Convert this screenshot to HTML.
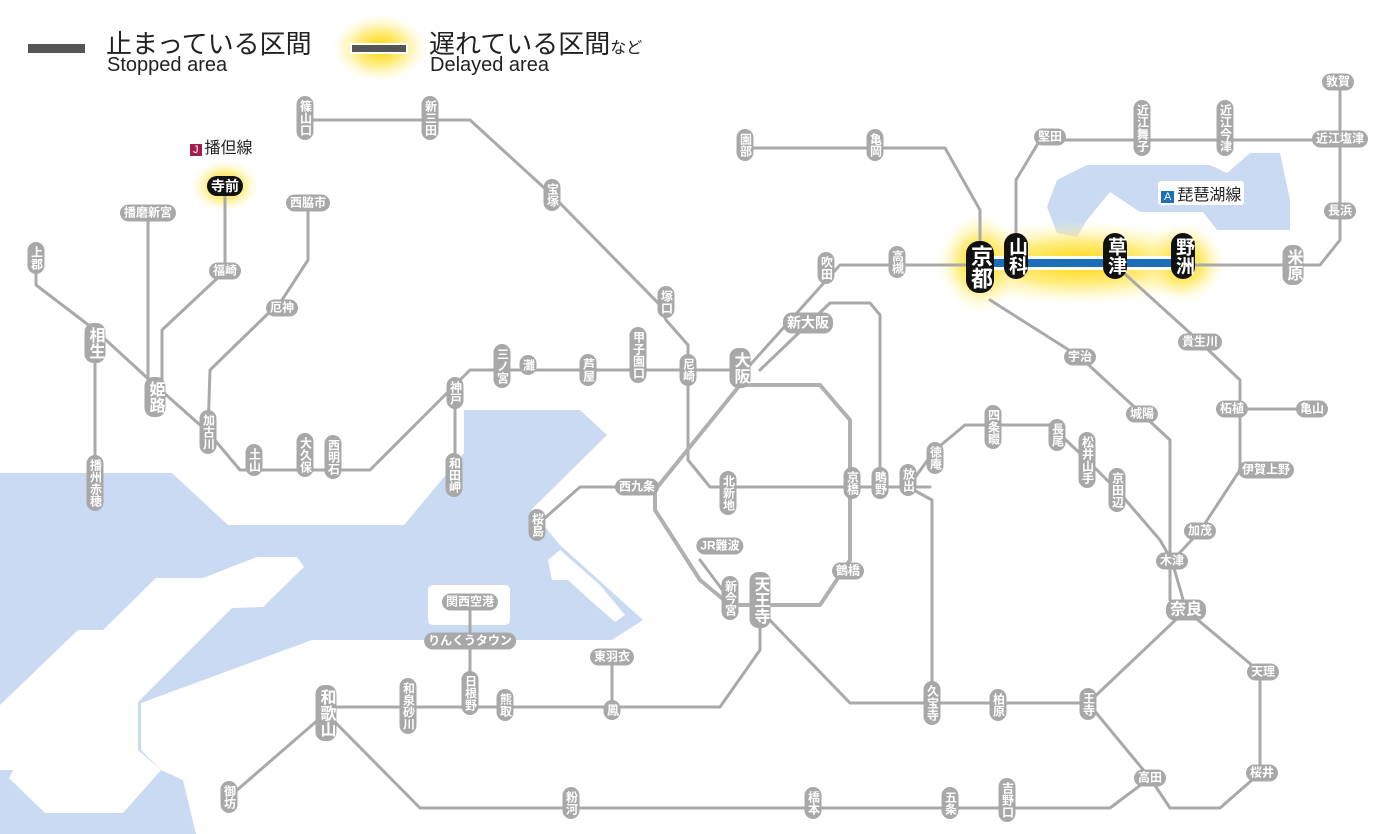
<!DOCTYPE html>
<html><head><meta charset="utf-8">
<style>
body{margin:0;width:1400px;height:834px;overflow:hidden;background:#fff;position:relative;font-family:"Liberation Sans","Noto Sans CJK JP",sans-serif}
svg{position:absolute;left:0;top:0}
.s{position:absolute;transform:translate(-50%,-50%);background:#a8a8a8;color:#fff;font-size:12px;line-height:13px;border-radius:9px;white-space:nowrap;padding:2px 4px;font-weight:bold}
.v{writing-mode:vertical-rl;text-orientation:upright;padding:4px 2px;letter-spacing:0}
.b{font-size:16px;line-height:17px}
.k{background:#111;font-size:19px;line-height:20px;border-radius:13px}
.t{position:absolute;white-space:nowrap}
</style></head><body>
<svg width="1400" height="834">
<defs>
<radialGradient id="g"><stop offset="0" stop-color="#ffd400"/><stop offset="0.5" stop-color="#ffe860" stop-opacity="0.8"/><stop offset="1" stop-color="#fff8c0" stop-opacity="0"/></radialGradient>
</defs>
<polygon fill="#cadaf2" points="0,473 172,473 228,525 404,525 464,453 464,410 580,410 607,435 531,510 560,545 643,620 612,640 312,640 141,703 141,750 161,770 183,780 196,834 0,834"/>
<polygon fill="#fff" points="0,705 78,630 103,630 156,578 203,578 257,557 297,557 304,567 263,607 232,608 138,702 138,750 161,770 123,813 45,813 9,778 13,770 0,770"/>
<rect x="428" y="585" width="82" height="40" rx="5" fill="#fff"/>
<polygon fill="#fff" points="548,560 560,550 600,585 625,615 615,622 590,600 568,580 552,580"/>
<polygon fill="#cadaf2" points="1047,207 1057,180 1087,165 1210,165 1227,173 1250,153 1280,153 1290,200 1290,230 1217,230 1203,212 1140,212 1110,192 1087,220 1077,237 1057,233"/>
<ellipse cx="380" cy="48" rx="48" ry="34" fill="url(#g)"/>
<ellipse cx="225" cy="186" rx="34" ry="26" fill="url(#g)"/>
<ellipse cx="1080" cy="263" rx="150" ry="42" fill="url(#g)"/>
<ellipse cx="980" cy="263" rx="40" ry="50" fill="url(#g)"/>
<ellipse cx="1183" cy="263" rx="40" ry="40" fill="url(#g)"/>
<g fill="none" stroke="#a9a9a9" stroke-width="3" stroke-linejoin="round" stroke-linecap="round">
<polyline points="305,120 470,120 552,195 660,305 666,320 688,345 688,460 710,487 930,487"/>
<polyline points="36,270 36,285 95,330 155,385 208,432 240,470 370,470 455,385 470,370 740,370 750,365 840,265 1293,265 1320,265 1340,240 1340,82"/>
<polyline points="1016,256 1016,180 1040,140 1340,140"/>
<polyline points="95,343 95,483"/>
<polyline points="148,213 148,390"/>
<polyline points="225,186 225,271 162,330 162,392"/>
<polyline points="308,203 308,260 282,300 210,370 208,432"/>
<polyline points="455,395 455,470"/>
<polyline points="745,148 945,148 980,210 980,265"/>
<polyline points="760,370 830,303 870,303 880,315 880,487"/>
<polyline points="908,487 932,500 932,703"/>
<polyline points="908,487 935,450 965,425 1050,425 1087,460 1117,490 1160,540 1172,561"/>
<polyline points="990,300 1080,357 1142,414 1170,440 1170,600 1186,610"/>
<polyline points="1115,265 1200,342 1240,380 1240,470 1200,531 1172,561 1186,610"/>
<polyline points="1240,409 1312,409"/>
<polyline points="1186,610 1260,672 1260,773 1220,808 1170,808 1150,778 1088,703 1186,610"/>
<polyline points="760,610 850,703 1088,703"/>
<polyline points="1150,778 1110,808 420,808 326,713"/>
<polyline points="326,713 229,797"/>
<polyline points="326,707 720,707 760,650 760,610"/>
<polyline points="470,602 470,693"/>
<polyline points="612,657 612,707"/>
<polyline points="637,487 580,487 537,525"/>
<polyline points="700,560 730,600"/>
</g>
<g fill="none" stroke="#b0b0b0" stroke-width="4" stroke-linejoin="round">
<polyline points="740,385 820,385 850,420 850,560 820,605 730,605 700,580 655,510 655,490 740,385"/>
</g>
<rect x="980" y="256" width="203" height="14" fill="#fff"/>
<rect x="980" y="259" width="203" height="8" fill="#1a6fb8"/>
<rect x="28" y="44" width="57" height="9" fill="#555"/>
<rect x="350" y="43" width="58" height="11" fill="#fff"/>
<rect x="352" y="45" width="54" height="7" fill="#555"/>
</svg>
<div class="t" style="left:106px;top:24px;font-size:26px;color:#222">止まっている区間</div>
<div class="t" style="left:107px;top:54px;font-size:20px;color:#222">Stopped area</div>
<div class="t" style="left:429px;top:24px;font-size:26px;color:#222">遅れている区間<span style="font-size:16px">など</span></div>
<div class="t" style="left:430px;top:54px;font-size:20px;color:#222">Delayed area</div>
<div class="t" style="left:190px;top:134px;font-size:16px;background:#fff;color:#222"><span style="background:#a0204a;color:#fff;font-size:11px;padding:0 3px;margin-right:3px">J</span>播但線</div>
<div class="t" style="left:1158px;top:181px;font-size:16px;background:#fff;color:#222;padding:0 3px;border-radius:3px"><span style="background:#1a6fb8;color:#fff;font-size:11px;padding:0 3px;margin-right:3px">A</span>琵琶湖線</div>

<div class="s k" style="left:225px;top:186px;font-size:14px;line-height:16px">寺前</div>
<div class="s k v" style="left:980px;top:267px;font-size:22px;line-height:24px">京都</div>
<div class="s k v" style="left:1016px;top:256px">山科</div>
<div class="s k v" style="left:1115px;top:256px">草津</div>
<div class="s k v" style="left:1183px;top:256px">野洲</div>

<div class="s v" style="left:305px;top:118px">篠山口</div>
<div class="s v" style="left:430px;top:118px">新三田</div>
<div class="s v" style="left:552px;top:195px">宝塚</div>
<div class="s v" style="left:745px;top:145px">園部</div>
<div class="s v" style="left:875px;top:145px">亀岡</div>
<div class="s" style="left:1050px;top:137px">堅田</div>
<div class="s v" style="left:1142px;top:128px">近江舞子</div>
<div class="s v" style="left:1225px;top:128px">近江今津</div>
<div class="s" style="left:1338px;top:82px">敦賀</div>
<div class="s" style="left:1340px;top:139px">近江塩津</div>
<div class="s" style="left:1340px;top:211px">長浜</div>
<div class="s v b" style="left:1293px;top:265px">米原</div>
<div class="s v" style="left:826px;top:268px">吹田</div>
<div class="s v" style="left:897px;top:262px">高槻</div>
<div class="s b" style="left:808px;top:323px;font-size:14px">新大阪</div>
<div class="s v" style="left:666px;top:302px">塚口</div>
<div class="s v" style="left:638px;top:355px">甲子園口</div>
<div class="s v" style="left:688px;top:370px">尼崎</div>
<div class="s v b" style="left:740px;top:368px">大阪</div>
<div class="s v" style="left:588px;top:370px">芦屋</div>
<div class="s v" style="left:528px;top:365px">灘</div>
<div class="s v" style="left:502px;top:366px">三ノ宮</div>
<div class="s v" style="left:455px;top:393px">神戸</div>
<div class="s v" style="left:454px;top:475px">和田岬</div>
<div class="s v" style="left:333px;top:457px">西明石</div>
<div class="s v" style="left:305px;top:455px">大久保</div>
<div class="s v" style="left:254px;top:460px">土山</div>
<div class="s v" style="left:208px;top:432px">加古川</div>
<div class="s v b" style="left:155px;top:397px">姫路</div>
<div class="s v b" style="left:95px;top:343px">相生</div>
<div class="s v" style="left:36px;top:258px">上郡</div>
<div class="s v" style="left:95px;top:483px">播州赤穂</div>
<div class="s" style="left:148px;top:213px">播磨新宮</div>
<div class="s" style="left:225px;top:271px">福崎</div>
<div class="s" style="left:308px;top:203px">西脇市</div>
<div class="s" style="left:282px;top:308px">厄神</div>
<div class="s" style="left:637px;top:487px">西九条</div>
<div class="s v" style="left:537px;top:525px">桜島</div>
<div class="s v" style="left:728px;top:493px">北新地</div>
<div class="s v" style="left:852px;top:483px">京橋</div>
<div class="s v" style="left:880px;top:483px">鴫野</div>
<div class="s v" style="left:908px;top:480px">放出</div>
<div class="s" style="left:720px;top:546px">JR難波</div>
<div class="s v" style="left:730px;top:598px">新今宮</div>
<div class="s v b" style="left:760px;top:600px">天王寺</div>
<div class="s" style="left:848px;top:571px">鶴橋</div>
<div class="s v" style="left:935px;top:458px">徳庵</div>
<div class="s v" style="left:993px;top:427px">四条畷</div>
<div class="s v" style="left:1057px;top:435px">長尾</div>
<div class="s v" style="left:1087px;top:460px">松井山手</div>
<div class="s v" style="left:1117px;top:490px">京田辺</div>
<div class="s" style="left:1080px;top:357px">宇治</div>
<div class="s" style="left:1142px;top:414px">城陽</div>
<div class="s" style="left:1172px;top:561px">木津</div>
<div class="s" style="left:1200px;top:531px">加茂</div>
<div class="s b" style="left:1186px;top:610px">奈良</div>
<div class="s" style="left:1266px;top:470px">伊賀上野</div>
<div class="s" style="left:1232px;top:409px">柘植</div>
<div class="s" style="left:1312px;top:409px">亀山</div>
<div class="s" style="left:1200px;top:342px">貴生川</div>
<div class="s" style="left:1263px;top:672px">天理</div>
<div class="s" style="left:1262px;top:773px">桜井</div>
<div class="s" style="left:1150px;top:778px">高田</div>
<div class="s v" style="left:1088px;top:704px">王寺</div>
<div class="s v" style="left:998px;top:705px">柏原</div>
<div class="s v" style="left:932px;top:703px">久宝寺</div>
<div class="s" style="left:470px;top:602px">関西空港</div>
<div class="s" style="left:470px;top:641px">りんくうタウン</div>
<div class="s v" style="left:470px;top:693px">日根野</div>
<div class="s v" style="left:505px;top:705px">熊取</div>
<div class="s v" style="left:408px;top:706px">和泉砂川</div>
<div class="s" style="left:612px;top:657px">東羽衣</div>
<div class="s v" style="left:612px;top:710px">鳳</div>
<div class="s v b" style="left:326px;top:713px">和歌山</div>
<div class="s v" style="left:229px;top:797px">御坊</div>
<div class="s v" style="left:571px;top:803px">粉河</div>
<div class="s v" style="left:813px;top:803px">橋本</div>
<div class="s v" style="left:950px;top:803px">五条</div>
<div class="s v" style="left:1007px;top:800px">吉野口</div>
</body></html>
